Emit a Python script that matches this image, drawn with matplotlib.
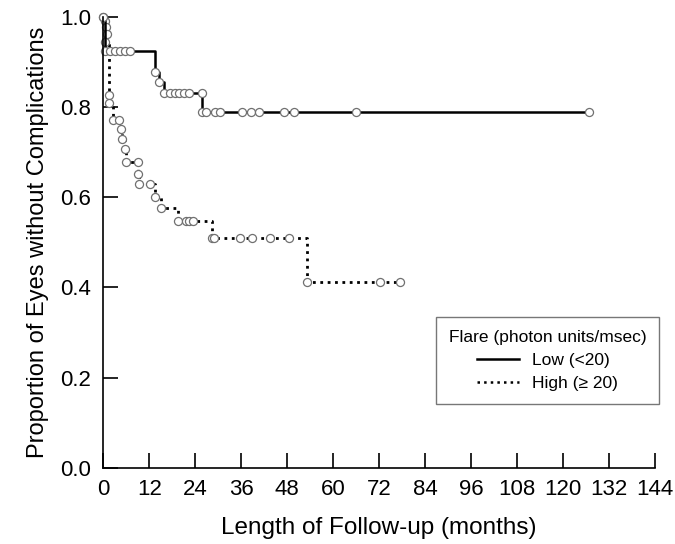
import matplotlib
matplotlib.use("Agg")
import matplotlib.pyplot as plt
from matplotlib.lines import Line2D

plt.rcParams['font.family'] = ['Liberation Sans', 'DejaVu Sans']

# Low flare (<20): observation times (months) and survival at each observation
low_t = [0, 0.4, 1.7, 3.0, 4.3, 5.6, 6.9, 13.6, 14.5, 15.9, 17.4, 18.7, 19.9, 21.2,
         22.4, 25.9, 25.9, 26.8, 29.2, 30.5, 36.3, 38.6, 40.6, 47.3, 49.7, 66.1, 126.9]
low_s = [1.0, 0.925, 0.925, 0.925, 0.925, 0.925, 0.925, 0.878, 0.856, 0.831, 0.831,
         0.831, 0.831, 0.831, 0.831, 0.831, 0.790, 0.790, 0.790, 0.790, 0.790, 0.790,
         0.790, 0.790, 0.790, 0.790, 0.790]

# High flare (>=20)
high_t = [0, 0.4, 0.8, 1.1, 0.4, 1.6, 1.6, 2.6, 4.1, 4.7, 4.9, 5.6, 5.9, 9.0, 9.0,
          9.3, 12.1, 13.4, 15.0, 19.6, 21.6, 22.5, 23.3, 28.5, 28.9, 35.7, 38.8,
          43.5, 48.4, 53.3, 72.2, 77.6]
high_s = [1.0, 0.99, 0.977, 0.962, 0.945, 0.826, 0.808, 0.772, 0.772, 0.751, 0.729,
          0.708, 0.678, 0.678, 0.651, 0.629, 0.629, 0.601, 0.577, 0.547, 0.547, 0.547,
          0.547, 0.510, 0.510, 0.510, 0.510, 0.510, 0.510, 0.413, 0.413, 0.413]

fig = plt.figure(figsize=(6.75, 5.44), dpi=100)
ax = fig.add_axes([0.153, 0.140, 0.817, 0.829])

ax.plot(high_t, high_s, drawstyle='steps-post', color='black', lw=2, ls=':',
        marker='o', ms=5.8, mfc='white', mec='#707070', mew=0.9, clip_on=False)
ax.plot(low_t, low_s, drawstyle='steps-post', color='black', lw=1.8, ls='-',
        marker='o', ms=5.8, mfc='white', mec='#707070', mew=0.9, clip_on=False)

ax.set_xlim(0, 144)
ax.set_ylim(0, 1.0)
ax.set_xticks(range(0, 145, 12))
ax.set_yticks([0.0, 0.2, 0.4, 0.6, 0.8, 1.0])
ax.set_yticklabels(['0.0', '0.2', '0.4', '0.6', '0.8', '1.0'])
ax.tick_params(direction='in', length=11, width=1.2, labelsize=16, pad=8)
ax.tick_params(axis='y', pad=9)
for s in ['top', 'right']:
    ax.spines[s].set_visible(False)
for s in ['left', 'bottom']:
    ax.spines[s].set_linewidth(1.2)

ax.set_xlabel('Length of Follow-up (months)', fontsize=17.5, labelpad=12)
ax.set_ylabel('Proportion of Eyes without Complications', fontsize=17, labelpad=8)

handles = [Line2D([], [], color='black', lw=1.8, ls='-'),
           Line2D([], [], color='black', lw=1.8, ls=':')]
leg = ax.legend(handles, ['Low (<20)', 'High (\u2265 20)'],
                title='Flare (photon units/msec)', loc='upper left',
                bbox_to_anchor=(0.603, 0.335), borderaxespad=0,
                fontsize=12.5, title_fontsize=12.5,
                frameon=True, fancybox=False, edgecolor='#555555',
                handlelength=2.4, borderpad=0.75, labelspacing=0.45)
leg.get_frame().set_linewidth(1.0)

fig.savefig('out.png', dpi=100)
